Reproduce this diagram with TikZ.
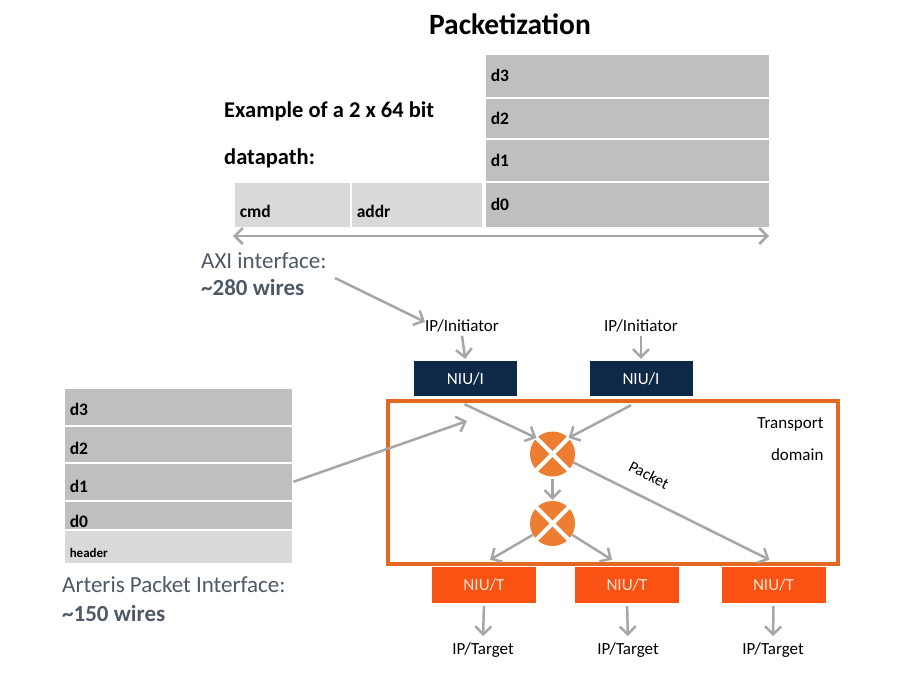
\documentclass[tikz,border=0pt]{standalone}
\usepackage{fontspec}
\setmainfont{Carlito}
\usepackage{tikz}
\usetikzlibrary{arrows.meta,positioning}

\definecolor{cellgray}{RGB}{191,191,191}
\definecolor{celllight}{RGB}{217,217,217}
\definecolor{wiregray}{RGB}{166,166,166}
\definecolor{niunavy}{RGB}{14,41,71}
\definecolor{domainorange}{RGB}{228,104,36}
\definecolor{routerorange}{RGB}{237,125,49}
\definecolor{targetorange}{RGB}{250,82,18}
\definecolor{targettext}{RGB}{252,228,214}
\definecolor{noteblue}{RGB}{78,89,102}

% label sitting lower in its cell
\newcommand{\low}[2]{\raisebox{-#1pt}[0pt][0pt]{#2}}

\begin{document}
\begin{tikzpicture}[x=1pt,y=-1pt,
  cell/.style={draw=white, line width=1.5, fill=cellgray, anchor=north west, inner xsep=6, inner ysep=0, align=left, font=\fontsize{17.5}{20}\selectfont\bfseries},
  barb/.tip={Straight Barb[length=8,width=16,line width=2.5]},
  wire/.style={draw=wiregray, line width=2.5, -barb},
  small/.style={font=\fontsize{17}{20}\selectfont},
  note/.style={font=\fontsize{23}{27}\selectfont, text=noteblue, anchor=base west, inner sep=0},
  niui/.style={fill=niunavy, text=white, minimum width=103, minimum height=35, small},
  niut/.style={fill=targetorange, text=targettext, minimum width=104, minimum height=36, small},
  router/.style={circle, fill=routerorange, minimum size=45, inner sep=0}]
\useasboundingbox (0,0) rectangle (902,696);

% title and datapath
\node[font=\fontsize{29.5}{34}\selectfont\bfseries] (title) at (510,24) {Packetization};
\node[anchor=base west, inner sep=0, font=\fontsize{22.5}{26}\selectfont\bfseries] (example) at (224,117) {Example of a 2 x 64 bit};
\node[anchor=base west, inner sep=0, font=\fontsize{22.5}{26}\selectfont\bfseries] (datapath) at (224,164) {datapath:};

\node[cell, text width=273, minimum height=44] (td3) at (484,53) {d3};
\node[cell, text width=273, minimum height=41] (td2) at (484,97) {d2};
\node[cell, text width=273, minimum height=43] (td1) at (484,138) {d1};
\node[cell, text width=273, minimum height=46] (td0) at (484,181) {d0};
\node[cell, text width=105, minimum height=46, fill=celllight] (cmd) at (233,181) {\low{13}{cmd}};
\node[cell, text width=120, minimum height=46, fill=celllight] (addr) at (350,181) {\low{13}{addr}};

\coordinate (busl) at (233,236);
\coordinate (busr) at (769,236);
\path[wire, barb-barb] (busl) -- (busr);

\node[note] (axi) at (201,268) {AXI interface:};
\node[note, font=\fontsize{23}{27}\selectfont\bfseries] (axiw) at (201,295) {\textasciitilde 280 wires};

% initiators
\node[small] (ini1) at (462,326) {IP/Initiator};
\node[small] (ini2) at (641,326) {IP/Initiator};
\node[niui] (niui1) at (465.5,378.5) {NIU/I};
\node[niui] (niui2) at (641,378.5) {NIU/I};
\coordinate (axiend) at (425,322);
\path[wire] (335,278) -- (axiend);
\path[wire, shorten >=2] (ini1.south) -- (niui1.north);
\path[wire, shorten >=2] (ini2.south) -- (niui2.north);

% transport domain
\node[draw=domainorange, line width=4, minimum width=450, minimum height=163] (domain) at (613,482.5) {};
\node[small, anchor=north east, align=right, font=\fontsize{17}{32}\selectfont] (tdname) at (827,414) {Transport\\domain};

\node[router] (r1) at (552.5,454) {};
\node[router] (r2) at (552.5,523.5) {};
\foreach \r in {r1,r2} {
  \draw[white, line width=4] (\r.45) -- (\r.225);
  \draw[white, line width=4] (\r.135) -- (\r.315);
}

\node[niut] (niut1) at (484,585) {NIU/T};
\node[niut] (niut2) at (627,585) {NIU/T};
\node[niut] (niut3) at (773.5,585) {NIU/T};

\path[wire] ([xshift=-1,yshift=-8]niui1.south) -- (r1.135);
\path[wire] ([xshift=-10,yshift=-9]niui2.south) -- (r1.45);
\path[wire, shorten <=2, shorten >=1] (r1.south) -- (r2.north);
\path[wire] (r1.-22) -- ([xshift=-4,yshift=7]niut3.north);
\node[small, font=\fontsize{16}{18}\selectfont, rotate=-27] (pkt) at (649,475) {Packet};
\path[wire] (r2.210) -- ([xshift=6,yshift=7]niut1.north);
\path[wire] (r2.-30) -- ([xshift=-15,yshift=7]niut2.north);

% targets
\node[small] (tgt1) at (483,650) {IP/Target};
\node[small] (tgt2) at (628,650) {IP/Target};
\node[small] (tgt3) at (773,650) {IP/Target};
\path[wire, shorten <=3, shorten >=3] (niut1.south) -- (tgt1.north);
\path[wire, shorten <=3, shorten >=3] (niut2.south) -- (tgt2.north);
\path[wire, shorten <=3, shorten >=3] (niut3.south) -- (tgt3.north);

% packet interface
\node[cell, text width=217, minimum height=38] (pd3) at (63,387) {\low{9}{d3}};
\node[cell, text width=217, minimum height=37] (pd2) at (63,425) {\low{10}{d2}};
\node[cell, text width=217, minimum height=38] (pd1) at (63,462) {\low{11}{d1}};
\node[cell, text width=217, minimum height=29] (pd0) at (63,500) {\low{12}{d0}};
\node[cell, text width=217, minimum height=34, fill=celllight, font=\fontsize{13}{15}\selectfont\bfseries] (hdr) at (63,529) {\low{11}{header}};
\coordinate (pktend) at (467,421);
\path[wire] (pd1.east) -- (pktend);

\node[note] (arteris) at (62,592) {Arteris Packet Interface:};
\node[note, font=\fontsize{23}{27}\selectfont\bfseries] (arterisw) at (62,621) {\textasciitilde 150 wires};
\end{tikzpicture}
\end{document}
